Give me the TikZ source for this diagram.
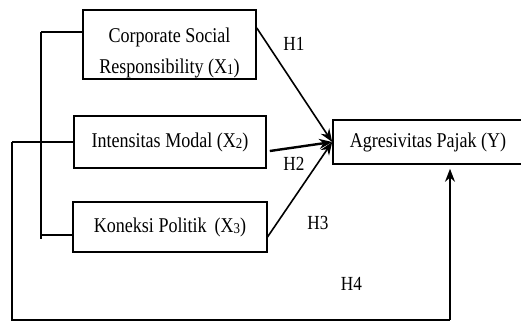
\documentclass[tikz,border=0pt]{standalone}
\usepackage{fontspec}
\setmainfont[FakeStretch=0.86]{Liberation Serif}
\usetikzlibrary{arrows.meta}
\newcommand{\lowsub}[1]{\raisebox{-1.5pt}{\fontsize{15}{15}\selectfont #1}}
\begin{document}
\begin{tikzpicture}[x=1pt,y=-1pt,
  box/.style={draw, line width=1.6pt, inner sep=0pt, font=\fontsize{21}{31}\selectfont},
  hlab/.style={font=\fontsize{20}{24}\selectfont, inner sep=0pt},
  link/.style={line width=1.4pt},
  arr/.style={line width=1.6pt, -{Stealth[length=13pt,width=10pt]}}]
\useasboundingbox (0,0) rectangle (521,321);
\node[box, minimum width=173pt, minimum height=69pt] (X1) at (169.5,44.5)
  {\raisebox{0pt}[0pt][5pt]{\begin{tabular}[t]{@{}c@{}}Corporate Social\\Responsibility (X\lowsub{1})\end{tabular}}};
\node[box, minimum width=192pt, minimum height=52pt] (X2) at (170,142) {Intensitas Modal (X\lowsub{2})};
\node[box, minimum width=194pt, minimum height=50pt] (X3) at (170,227) {Koneksi Politik\ \,(X\lowsub{3})};
\node[box, minimum width=190pt, minimum height=44pt] (Y) at (428,142) {Agresivitas Pajak (Y)};
% bracket
\coordinate (VT) at (41,32);
\coordinate (VB) at (41,239);
\coordinate (V3) at (41,235);
\coordinate (L1) at (12,142);
\coordinate (BL) at (12,320);
\coordinate (BR) at (450,320);
\draw[link] (VT) -- (VB);
\draw[link] (VT) -- (X1.west |- VT);
\draw[link] (V3) -- (X3.west |- V3);
\draw[link] (L1) -- (X2.west);
\draw[link] (L1) -- (BL) -- (BR);
\draw[arr, shorten >=4pt] (BR) -- (BR |- Y.south);
% arrows to Y
\draw[arr] ([yshift=16.5pt]X1.east) -- (Y.west);
\draw[arr, line width=2.4pt] ([xshift=3pt,yshift=-9pt]X2.east) -- (Y.west);
\draw[arr] ([xshift=-1pt,yshift=-11pt]X3.east) -- (Y.west);
% labels
\node[hlab] (H1) at (294,43.5) {H1};
\node[hlab] (H2) at (294,164) {H2};
\node[hlab] (H3) at (318,223) {H3};
\node[hlab] (H4) at (351.5,284) {H4};
\end{tikzpicture}
\end{document}
